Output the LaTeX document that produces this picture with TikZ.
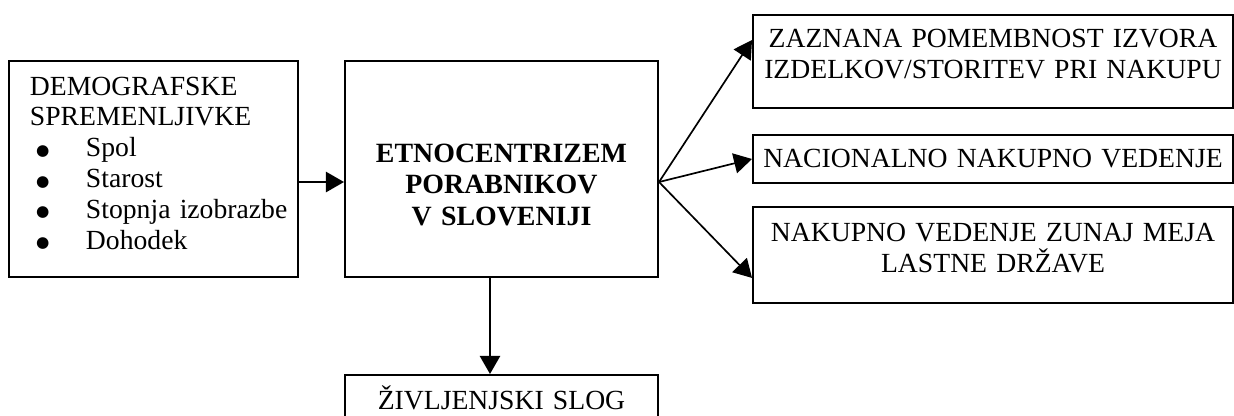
\documentclass[tikz,border=0pt]{standalone}
\usepackage{fontspec}
\setmainfont{Liberation Serif}
\newfontfamily\dotfont{DejaVu Sans}
\usetikzlibrary{arrows.meta}
\newcommand{\demoitem}[1]{\hspace*{2.7pt}\makebox[22.2pt][l]{\raisebox{0.6pt}{\dotfont\fontsize{6.8pt}{7pt}\selectfont ●}}\mbox{#1}}
\tikzset{
  plainbox/.style={draw=black, line width=0.9pt, inner sep=0pt,
                   font=\fontsize{12.3pt}{13.7pt}\selectfont},
  demobox/.style={plainbox, align=left, inner xsep=0.328cm,
                  text width=3.859cm},
  etnobox/.style={plainbox, align=center, text width=4.891cm,
                  font=\fontsize{12.4pt}{14.1pt}\selectfont\bfseries},
  outbox/.style={plainbox, align=center, text width=7.5cm},
  flowarrow/.style={-{Triangle[length=8pt, width=9pt]}, line width=0.75pt},
}
\begin{document}
\begin{tikzpicture}
  \useasboundingbox (0,0) rectangle (19.281,6.5);
  \node[demobox, text height=0.531cm, text depth=2.844cm] (demo) at (2.398, 3.859)
    {DEMOGRAFSKE\\SPREMENLJIVKE\\\demoitem{Spol}\\\demoitem{Starost}\\
     \demoitem{Stopnja izobrazbe}\\\demoitem{Dohodek}};
  \node[etnobox, text height=1.578cm, text depth=1.797cm] (etno) at (7.836, 3.859)
    {ETNOCENTRIZEM\\PORABNIKOV\\V SLOVENIJI};
  \node[outbox, text height=0.516cm, text depth=0.938cm] (izvor) at (15.516, 5.539)
    {ZAZNANA POMEMBNOST IZVORA\\IZDELKOV/STORITEV PRI NAKUPU};
  \node[outbox, text height=0.516cm, text depth=0.234cm] (nacion) at (15.516, 4.016)
    {NACIONALNO NAKUPNO VEDENJE};
  \node[outbox, text height=0.547cm, text depth=0.953cm] (tujina) at (15.516, 2.516)
    {NAKUPNO VEDENJE ZUNAJ MEJA\\LASTNE DRŽAVE};
  \node[outbox, text width=4.891cm, text height=0.547cm, text depth=0.141cm]
    (slog) at (7.836, 0.297) {ŽIVLJENJSKI SLOG};
  % all three outgoing arrows leave from one point on the right side
  \coordinate (hub) at ([yshift=-0.203cm]etno.east);
  \draw[flowarrow] (demo.east |- hub) -- (etno.west |- hub);
  \draw[flowarrow] (hub) -- ([yshift=0.336cm]izvor.west);
  \draw[flowarrow] (hub) -- (nacion.west);
  \draw[flowarrow] (hub) -- ([yshift=-0.359cm]tujina.west);
  \draw[flowarrow] ([xshift=-0.18cm]etno.south) -- ([xshift=-0.18cm]slog.north);
\end{tikzpicture}
\end{document}
